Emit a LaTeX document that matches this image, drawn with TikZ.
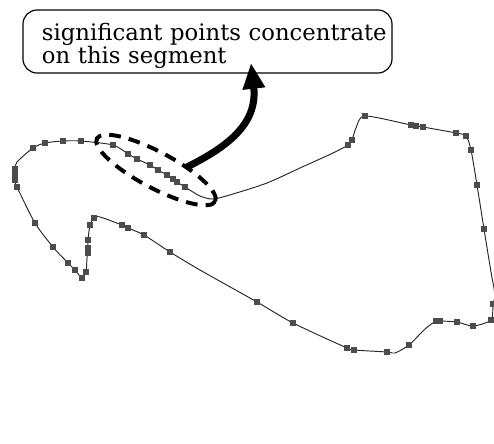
\documentclass[tikz,border=0pt]{standalone}
\usepackage{fontspec}
\setmainfont{DejaVu Serif}
\usepackage{tikz}
\usetikzlibrary{positioning, shapes}
\usetikzlibrary{arrows.meta}

\begin{document}
\begin{tikzpicture}[x=0.03cm, y=-0.03cm]
        \tikzset{outline/.style = {line width=0.8pt, black!85}}
        \tikzset{sample/.style = {fill=black!70, inner sep=0pt, minimum size=0.2cm}}
        \tikzset{hull/.style = {ellipse, draw, line width=3.4pt, dash pattern=on 10pt off 7pt, minimum width=4.02cm, minimum height=1.08cm, rotate=-28}}
        \tikzset{note/.style = {draw, rounded corners=12pt, line width=1pt, minimum width=11.07cm, minimum height=1.89cm, inner ysep=2pt,
            text width=9.93cm, text height=23pt, text depth=24pt, align=left, font=\fontsize{19.4}{19.6}\selectfont}}
        \tikzset{edge/.style = {line width=6pt, -{Triangle[length=22pt, width=18pt]}}}

        \useasboundingbox (0,0) rectangle (494,444);

        % contour
        \begin{scope}
        \clip (0,0) rectangle (494,444);
        \draw[outline] plot[smooth cycle, tension=0.45] coordinates {
            (17,162) (33,148) (45,143) (63,141) (81,141) (113,145) (128,154) (137,159)
            (150,165) (158,170) (167,175) (173,179) (177,182) (185,187) (200,196) (213,199)
            (233,194) (267,183) (300,168) (333,153) (348,145) (352,140) (356,128) (365,116)
            (411,125) (423,127) (456,133) (466,136) (471,150) (477,185) (484,229) (491,272)
            (495,295) (493,304) (491,320) (473,326) (457,322) (440,321) (436,321) (425,329)
            (409,345) (395,353) (387,352) (354,350) (347,348) (293,323) (257,302) (200,270)
            (170,252) (144,235) (128,228) (122,225) (100,217) (94,218) (90,225) (88,240)
            (88,250) (87,258) (86,272) (82,278) (75,270) (68,263) (53,247) (35,223)
            (17,187) (15,180) (15,169)};

        % significant points
        \foreach \px/\py [count=\i] in {33/148, 45/143, 63/141, 81/141, 113/145,
            128/154, 137/159, 150/165, 158/170, 167/175, 173/179, 177/182, 185/187,
            348/145, 352/140, 365/116, 411/125, 416/126, 423/127, 456/133, 466/136,
            471/150, 477/185, 484/229, 493/304, 491/320, 473/326, 457/322, 440/321,
            436/321, 409/345, 387/352, 354/350, 347/348, 293/323, 257/302, 170/252,
            144/235, 128/228, 122/225, 94/218, 90/225, 88/240, 88/248, 88/253,
            86/272, 82/278, 75/270, 68/263, 53/247, 35/223, 17/187, 15/180, 15/175, 15/169}
            \node[sample] (p\i) at (\px,\py) {};
        \end{scope}

        % segment and note
        \node[hull] (segment) at (156,170) {};
        \node[note] (note) at (207.5,41.5) {\mbox{significant points concentrate}\\on this segment};

        % pointer
        \coordinate (tail) at (187,167);
        \coordinate (tip) at (251,63);
        \draw[edge] (tail) .. controls (225,148) and (258,125) .. (tip);

\end{tikzpicture}
\end{document}
